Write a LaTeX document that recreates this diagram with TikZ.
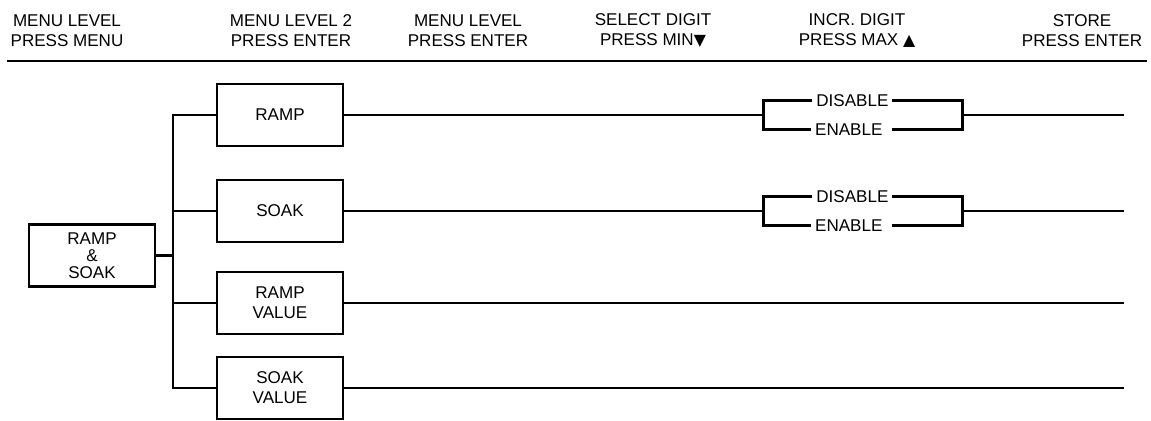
\documentclass[tikz,border=0pt]{standalone}
\usepackage{fontspec}
\setmainfont{Liberation Sans}
\newfontfamily\symfont{DejaVu Sans}
\usetikzlibrary{calc,positioning}

\begin{document}
\begin{tikzpicture}[x=0.02cm, y=-0.02cm, line width=1.6pt,
    every node/.style={font=\fontsize{9.7}{11.4}\selectfont, align=center},
    menubox/.style={draw, line width=1.6pt, minimum width=2.52cm, minimum height=1.24cm, inner sep=0pt},
    optlabel/.style={inner xsep=1.5pt, inner ysep=0pt}]
    \useasboundingbox (0,0) rectangle (1151,420);

    % header
    \node (h1) at (67,31) {MENU LEVEL\\PRESS MENU};
    \node (h2) at (291,31) {MENU LEVEL 2\\PRESS ENTER};
    \node (h3) at (468,31) {MENU LEVEL\\PRESS ENTER};
    \node (h4) at (653,31) {SELECT DIGIT\\PRESS MIN{\symfont\fontsize{9}{9}\selectfont ▼}};
    \node (h5) at (857,31) {INCR. DIGIT\\PRESS MAX {\symfont\fontsize{9}{9}\selectfont ▲}};
    \node (h6) at (1082,31) {STORE\\PRESS ENTER};
    \coordinate (rulel) at (7,61);
    \coordinate (ruler) at (1147,61);
    \draw (rulel) -- (ruler);

    % menu boxes
    \node[menubox, font=\fontsize{9.7}{9.6}\selectfont] (rs) at (92,255.5) {RAMP\\\&\\SOAK};
    \node[menubox] (ramp) at (280,115) {RAMP};
    \node[menubox] (soak) at (280,211) {SOAK};
    \node[menubox] (rampv) at (280,303) {RAMP\\VALUE};
    \node[menubox] (soakv) at (280,388) {SOAK\\VALUE};

    % tree
    \coordinate (tr) at (173,0);
    \coordinate (ex) at (1124,0);
    \draw (ramp.west) -- (ramp.west -| tr) -- (soakv.west -| tr) -- (soakv.west);
    \draw (rs.east) -- (rs.east -| tr);
    \draw (soak.west) -- (soak.west -| tr);
    \draw (rampv.west) -- (rampv.west -| tr);

    % options
    \foreach \b in {ramp,soak} {
      \node[optlabel] (\b-dis) at ($(\b.east)+(508,-14.5)$) {DISABLE};
      \node[optlabel] (\b-en) at ($(\b.east)+(507,14.5)$) {ENABLE\hspace{3pt}};
      \coordinate (\b-l) at ($(\b.east)+(419,0)$);
      \coordinate (\b-r) at ($(\b.east)+(618,0)$);
      \draw (\b.east) -- (\b-l);
      \draw (\b-dis.west) -| (\b-l) |- (\b-en.west);
      \draw (\b-dis.east) -| (\b-r) |- (\b-en.east);
      \draw (\b-r) -- (\b-r -| ex);
    }
    \draw (rampv.east) -- (rampv.east -| ex);
    \draw (soakv.east) -- (soakv.east -| ex);
\end{tikzpicture}
\end{document}
